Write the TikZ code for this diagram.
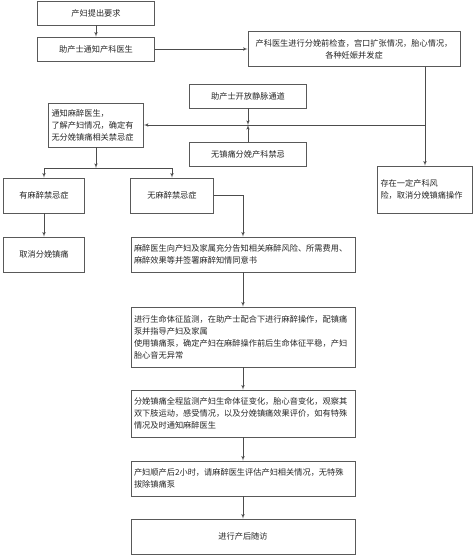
\documentclass[tikz,border=0pt]{standalone}
\usepackage{fontspec}
\setmainfont{Noto Sans CJK SC}
\usepackage{tikz}
\usetikzlibrary{arrows,positioning}

\begin{document}
\begin{tikzpicture}[
    node distance=36pt,
    >=latex',
    line width=0.6pt,
    color=black!70,
    font=\fontsize{8.2pt}{12pt}\selectfont,
    task/.style={
		rectangle,
		draw=black!65,
		text=black!85,
		align=center,
		inner sep=2pt,
		minimum height=24pt,
		minimum width=117pt
	},
    memo/.style={
		rectangle,
		draw=black!65,
		text=black!85,
		align=left,
		inner xsep=3pt,
		text width=218pt
	}
  ]

\useasboundingbox (0pt,0pt) rectangle (474pt,-557pt);

 \node [task] (request) at (96pt,-13pt) {产妇提出要求};
 \node [task, below of=request] (notify) {助产士通知产科医生};
 \node [task, right of=notify, xshift=222pt, minimum width=212pt, minimum height=35pt] (check)
 {产科医生进行分娩前检查，宫口扩张情况，胎心情况，\\各种妊娠并发症};

 \node [task, below of=check, xshift=-106pt, yshift=-11pt] (vein) {助产士开放静脉通道};
 \node [task, below of=vein, yshift=-22pt] (nocontra) {无镇痛分娩产科禁忌};

 \node [memo, below of=notify, yshift=-40pt, text width=89pt, minimum height=44pt] (anesth)
 {%
 通知麻醉医生，\\
 了解产妇情况，确定有\\
 无分娩镇痛相关禁忌症
 };
 \node [memo, below of=check, xshift=71pt, yshift=-104.5pt, text width=89pt, minimum height=47pt] (risk)
 {%
 存在一定产科风\\
 险，取消分娩镇痛操作
 };

% // contraindication
 \node [task, below of=anesth, xshift=-52pt, yshift=-34.5pt, minimum width=81pt, minimum height=35pt] (contra) {有麻醉禁忌症};
 \node [task, right of=contra, xshift=92pt, minimum width=83pt, minimum height=35pt] (fine) {无麻醉禁忌症};
 \node [task, below of=contra, yshift=-23pt, minimum width=81pt, minimum height=35pt] (cancel) {取消分娩镇痛};

% // main column
 \node [memo, right of=cancel, xshift=163pt, minimum height=35pt] (consent)
 {%
 麻醉医生向产妇及家属充分告知相关麻醉风险、所需费用、\\
 麻醉效果等并签署麻醉知情同意书
 };
 \node [memo, below of=consent, yshift=-46.5pt, minimum height=60pt] (monitor)
 {%
 进行生命体征监测，在助产士配合下进行麻醉操作，配镇痛\\
 泵并指导产妇及家属\\
 使用镇痛泵，确定产妇在麻醉操作前后生命体征平稳，产妇\\
 胎心音无异常
 };
 \node [memo, below of=monitor, yshift=-40.5pt, minimum height=47pt] (watch)
 {%
 分娩镇痛全程监测产妇生命体征变化，胎心音变化，观察其\\
 双下肢运动，感受情况，以及分娩镇痛效果评价，如有特殊\\
 情况及时通知麻醉医生
 };
 \node [memo, below of=watch, yshift=-29pt, minimum height=35pt] (remove)
 {%
 产妇顺产后2小时，请麻醉医生评估产妇相关情况，无特殊\\
 拔除镇痛泵
 };
 \node [task, below of=remove, yshift=-22pt, minimum width=224pt, minimum height=35pt] (visit) {进行产后随访};

 \draw [->] (request) -- (notify);
 \draw [->] (notify) -- (check);
 \draw [->] (check.south -| risk.north) -- (risk.north);
 \draw [->] (check.south -| risk.north) |- (anesth.east);

 \coordinate (meet) at (vein |- anesth.east);
 \draw [->] (vein) -- (meet);
 \draw [->] (nocontra) -- (meet);

 \coordinate [below of=anesth, yshift=-7pt] (split);
 \draw [->] (anesth) -- (split);
 \draw [->] (split) -| (contra);
 \draw [->] (split) -| (fine);
 \draw [->] (contra) -- (cancel);
 \draw [->] (fine) -| (consent);

 \draw [->] (consent) -- (monitor);
 \draw [->] (monitor) -- (watch);
 \draw [->] (watch) -- (remove);
 \draw [->] (remove) -- (visit);

\end{tikzpicture}
\end{document}
